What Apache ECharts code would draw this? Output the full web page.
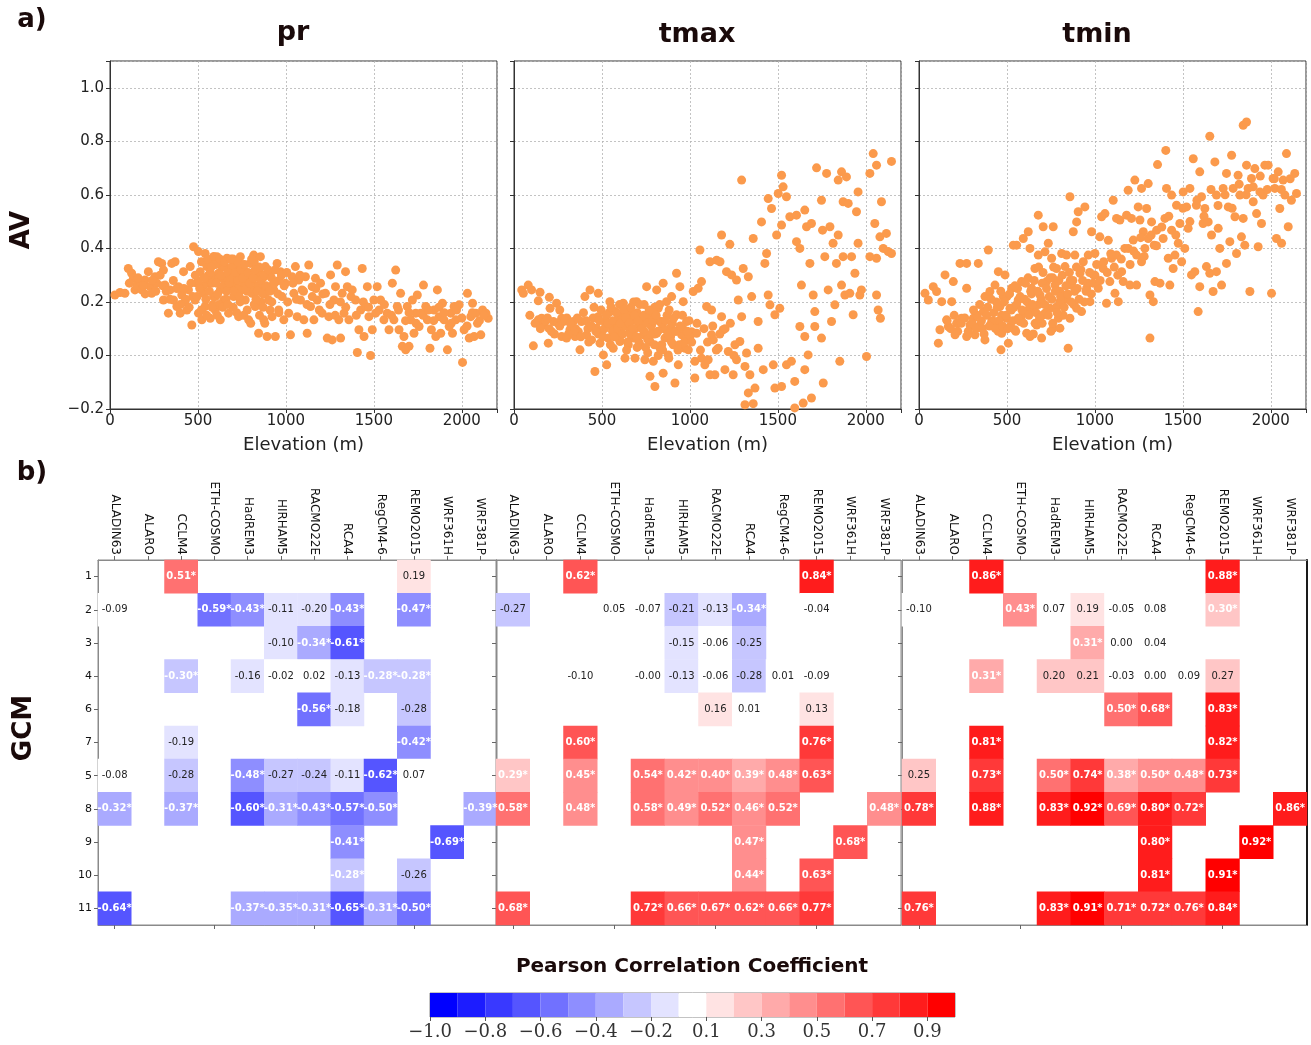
<!DOCTYPE html>
<html><head><meta charset="utf-8">
<script src="https://cdn.jsdelivr.net/npm/echarts@6/dist/echarts.min.js"></script>
<style>html,body{margin:0;padding:0;background:#fff}#c{width:1311px;height:1045px}</style>
</head><body><div id="c"></div>
<script>
// ---------------- DATA ----------------
const panelNames = ['pr', 'tmax', 'tmin'];
const rcms = ['ALADIN63','ALARO','CCLM4','ETH-COSMO','HadREM3','HIRHAM5','RACMO22E','RCA4','RegCM4-6','REMO2015','WRF361H','WRF381P'];
const gcms = ['1','2','3','4','6','7','5','8','9','10','11'];
const cbarTickLabels = ['\u22121.0','\u22120.8','\u22120.6','\u22120.4','\u22120.2','0.1','0.3','0.5','0.7','0.9'];

// elevation (m), AV
const prPoints = [[28,0.226],[57,0.235],[85,0.232],[104,0.325],[123,0.307],[133,0.288],[142,0.245],[152,0.263],[171,0.276],[180,0.245],[199,0.282],[218,0.313],[228,0.257],[237,0.232],[256,0.294],[266,0.27],[275,0.35],[294,0.344],[304,0.319],[304,0.207],[313,0.263],[332,0.158],[342,0.245],[351,0.344],[361,0.207],[370,0.35],[380,0.183],[389,0.257],[399,0.158],[408,0.226],[418,0.313],[427,0.201],[437,0.17],[446,0.245],[456,0.332],[465,0.114],[475,0.406],[484,0.207],[494,0.27],[503,0.388],[503,0.158],[513,0.313],[522,0.133],[532,0.232],[541,0.381],[541,0.183],[551,0.332],[560,0.27],[570,0.139],[579,0.356],[589,0.294],[589,0.22],[598,0.17],[608,0.369],[617,0.307],[627,0.245],[627,0.133],[636,0.332],[646,0.207],[655,0.282],[665,0.363],[674,0.158],[684,0.319],[693,0.257],[703,0.22],[712,0.344],[722,0.294],[731,0.145],[741,0.369],[750,0.245],[760,0.319],[769,0.207],[779,0.282],[788,0.133],[798,0.344],[807,0.232],[817,0.375],[826,0.183],[836,0.294],[845,0.083],[855,0.369],[864,0.257],[874,0.133],[883,0.332],[893,0.071],[902,0.207],[912,0.307],[921,0.145],[931,0.245],[940,0.071],[950,0.344],[959,0.17],[969,0.313],[978,0.22],[988,0.133],[997,0.27],[1016,0.158],[1026,0.077],[1035,0.294],[1045,0.232],[1054,0.332],[1064,0.145],[1073,0.282],[1083,0.207],[1092,0.245],[1102,0.133],[1111,0.294],[1121,0.083],[1130,0.338],[1140,0.183],[1149,0.257],[1159,0.133],[1168,0.288],[1178,0.207],[1197,0.27],[1206,0.158],[1225,0.232],[1235,0.065],[1244,0.145],[1254,0.301],[1263,0.058],[1273,0.207],[1282,0.257],[1292,0.338],[1301,0.133],[1311,0.065],[1320,0.232],[1330,0.158],[1339,0.313],[1349,0.257],[1358,0.133],[1377,0.245],[1396,0.207],[1406,0.011],[1415,0.096],[1425,0.17],[1434,0.325],[1444,0.071],[1453,0.183],[1463,0.257],[1472,0.145],[1481,0.0],[1491,0.096],[1500,0.207],[1510,0.158],[1519,0.257],[1538,0.207],[1557,0.133],[1576,0.158],[1586,0.096],[1605,0.27],[1614,0.133],[1624,0.319],[1633,0.183],[1643,0.096],[1652,0.232],[1662,0.034],[1671,0.071],[1681,0.021],[1690,0.183],[1700,0.034],[1709,0.133],[1719,0.207],[1728,0.083],[1738,0.158],[1747,0.226],[1757,0.108],[1766,0.158],[1782,0.263],[1795,0.183],[1804,0.133],[1819,0.027],[1827,0.096],[1842,0.17],[1852,0.071],[1861,0.245],[1871,0.145],[1880,0.083],[1890,0.195],[1899,0.133],[1918,0.021],[1928,0.108],[1937,0.158],[1947,0.083],[1956,0.183],[1966,0.133],[1985,0.189],[2004,-0.026],[2013,0.096],[2032,0.232],[2042,0.065],[2051,0.145],[2061,0.195],[2070,0.071],[2080,0.158],[2089,0.12],[2108,0.077],[2118,0.17],[2137,0.158],[2150,0.139],
[560,0.30],[580,0.27],[600,0.34],[620,0.29],[640,0.25],[650,0.33],[660,0.28],[680,0.30],[700,0.36],[710,0.27],[720,0.32],[730,0.25],[740,0.29],[750,0.34],[760,0.27],[770,0.31],[780,0.24],[790,0.30],[810,0.28],[820,0.35],[840,0.26],[850,0.31],[870,0.29],[880,0.23],[900,0.30],[920,0.26],[940,0.32],[960,0.28],[600,0.22],[620,0.19],[660,0.21],[700,0.18],[740,0.20],[780,0.17],[820,0.19],[860,0.20],[530,0.26],[570,0.31],[690,0.33],[725,0.35],[800,0.25],[830,0.21],[870,0.18],[910,0.17],[500,0.28],[470,0.22],[430,0.21],[380,0.25],[340,0.21],[300,0.26],[260,0.24],[200,0.23],
[485,0.30],[495,0.22],[510,0.25],[520,0.35],[535,0.29],[545,0.21],[555,0.36],[565,0.24],[575,0.33],[585,0.19],[590,0.37],[605,0.27],[612,0.23],[625,0.36],[632,0.30],[645,0.26],[652,0.35],[663,0.24],[670,0.31],[678,0.27],[688,0.36],[698,0.29],[705,0.24],[715,0.31],[728,0.28],[735,0.22],[745,0.32],[755,0.29],[765,0.34],[772,0.25],[785,0.31],[795,0.27],[805,0.36],[815,0.29],[825,0.32],[838,0.24],[848,0.33],[858,0.28],[868,0.23],[878,0.30],[888,0.26],[898,0.32],[908,0.24],[918,0.29],[935,0.27],[955,0.23],[975,0.30],[990,0.26],[1005,0.31],[1010,0.20],[1040,0.27],[1060,0.21],[1080,0.30],[1100,0.24],[1120,0.19],[1150,0.22],[1170,0.25],[1190,0.17],[1210,0.23],[1250,0.19],[1280,0.15],[1310,0.20],[1340,0.18],[1370,0.22],[1400,0.15],[1440,0.20],[1470,0.18],[1530,0.17],[1560,0.19],[1600,0.15],[1640,0.17],[1680,0.13],[1700,0.16],[1740,0.12],[1780,0.15],[1810,0.17],[1840,0.13],[1870,0.18],[1900,0.16],[1940,0.12],[1970,0.17],[2000,0.14],[2030,0.11],[2060,0.16],[2100,0.13],[2125,0.15],
[110,0.27],[160,0.29],[190,0.26],[240,0.28],[285,0.30],[320,0.24],[360,0.28],[400,0.19],[420,0.25],[450,0.18],[460,0.27],[520,0.17],[550,0.15],[580,0.18],[610,0.15],[640,0.18],[670,0.19],[720,0.16],[760,0.15],[800,0.12],[850,0.15],[880,0.12],[920,0.20],[960,0.16]];

const tmaxPoints = [[44,0.245],[53,0.232],[81,0.263],[100,0.245],[110,0.036],[138,0.204],[138,0.133],[148,0.236],[157,0.139],[167,0.114],[176,0.127],[195,0.046],[201,0.217],[205,0.176],[214,0.089],[224,0.127],[242,0.195],[271,0.139],[271,0.071],[280,0.127],[299,0.065],[318,0.096],[337,0.127],[347,0.071],[366,0.089],[375,0.021],[384,0.127],[403,0.22],[413,0.077],[432,0.245],[441,0.058],[460,-0.06],[470,0.102],[479,0.232],[479,0.145],[489,0.046],[498,0.089],[508,0.002],[517,0.127],[527,-0.035],[536,0.065],[545,0.201],[555,0.114],[564,0.027],[574,0.164],[583,0.077],[593,0.139],[602,0.052],[612,0.102],[621,0.195],[631,-0.01],[640,0.127],[650,0.04],[659,0.089],[669,0.152],[678,0.065],[688,-0.01],[697,0.201],[706,0.108],[716,0.04],[725,0.139],[735,0.077],[744,-0.016],[754,0.257],[763,0.152],[773,0.052],[773,-0.078],[782,0.114],[792,-0.022],[801,-0.116],[811,0.245],[811,0.083],[820,0.176],[830,0.027],[839,0.127],[848,0.27],[848,-0.066],[858,0.065],[867,0.201],[877,0.002],[886,0.102],[896,0.22],[905,0.04],[915,-0.103],[924,0.307],[924,0.152],[934,-0.035],[943,0.257],[953,0.077],[962,0.201],[972,0.027],[981,0.127],[991,0.021],[1009,0.089],[1019,0.239],[1028,-0.022],[1028,-0.084],[1038,0.083],[1047,0.251],[1057,0.394],[1066,0.276],[1066,-0.01],[1085,-0.035],[1095,0.183],[1104,-0.016],[1114,0.35],[1114,-0.072],[1123,0.077],[1123,0.17],[1133,0.058],[1142,-0.072],[1152,0.356],[1161,0.027],[1171,0.35],[1180,0.145],[1180,0.45],[1189,0.096],[1199,-0.053],[1208,0.313],[1218,0.015],[1227,0.415],[1237,0.301],[1246,-0.072],[1256,0.04],[1265,0.282],[1265,-0.016],[1275,0.207],[1284,0.052],[1294,0.655],[1294,0.145],[1303,0.325],[1313,-0.041],[1313,-0.184],[1322,0.009],[1332,0.294],[1332,-0.14],[1341,-0.072],[1351,0.22],[1360,0.437],[1360,-0.18],[1370,-0.122],[1388,0.027],[1388,0.127],[1407,0.499],[1417,-0.053],[1426,0.344],[1436,0.381],[1445,0.586],[1445,0.226],[1455,0.189],[1464,0.549],[1474,-0.035],[1483,0.152],[1483,-0.122],[1493,0.45],[1502,0.605],[1511,0.176],[1521,0.673],[1521,0.487],[1530,0.63],[1521,-0.116],[1549,0.593],[1549,-0.035],[1568,0.518],[1577,-0.022],[1596,-0.097],[1596,-0.196],[1606,0.524],[1606,0.425],[1625,0.4],[1625,0.108],[1634,0.263],[1644,-0.178],[1653,0.543],[1653,0.071],[1653,-0.053],[1663,0.481],[1672,0.002],[1682,0.344],[1691,0.493],[1691,-0.159],[1701,0.226],[1710,0.164],[1710,0.108],[1720,0.701],[1748,0.58],[1748,0.065],[1754,0.468],[1758,-0.103],[1767,0.369],[1777,0.68],[1786,0.245],[1796,0.481],[1805,0.127],[1814,0.419],[1824,0.189],[1833,0.344],[1843,0.655],[1843,0.45],[1852,-0.022],[1862,0.263],[1862,0.686],[1871,0.574],[1871,0.369],[1881,0.226],[1890,0.667],[1890,-0.202],[1900,0.568],[1909,0.232],[1919,0.369],[1928,0.152],[1938,0.307],[1947,0.537],[1956,0.611],[1956,0.419],[1966,0.226],[1975,0.245],[2004,-0.004],[2023,0.68],[2023,0.369],[2042,0.754],[2051,0.493],[2061,0.711],[2061,0.226],[2061,0.363],[2070,0.17],[2080,0.443],[2083,0.139],[2089,0.574],[2099,0.4],[2117,0.456],[2127,0.388],[2146,0.725],[2146,0.381],
[420,0.10],[450,0.14],[480,0.08],[520,0.12],[540,0.16],[560,0.09],[580,0.13],[600,0.06],[610,0.15],[630,0.11],[650,0.17],[660,0.08],[670,0.13],[690,0.10],[700,0.16],[710,0.05],[720,0.12],[740,0.09],[750,0.14],[760,0.06],[780,0.11],[790,0.17],[800,0.08],[820,0.13],[840,0.04],[850,0.10],[870,0.15],[890,0.07],[900,0.12],[920,0.09],[940,0.04],[960,0.10],[980,0.06],[1000,0.07],[640,0.02],[700,0.03],[760,0.01],[820,0.00],[880,-0.01],[600,0.19],[680,0.20],[740,0.19],[800,0.18],[350,0.10],[300,0.14],[250,0.12],[200,0.10],[180,0.13],
[360,0.14],[380,0.07],[395,0.16],[410,0.13],[425,0.05],[440,0.11],[455,0.18],[465,0.09],[485,0.13],[495,0.17],[505,0.07],[515,0.10],[525,0.15],[535,0.12],[548,0.04],[552,0.18],[562,0.13],[570,0.07],[585,0.16],[590,0.10],[605,0.12],[618,0.08],[625,0.17],[635,0.14],[645,0.05],[655,0.12],[665,0.18],[675,0.10],[685,0.15],[695,0.07],[705,0.13],[715,0.19],[728,0.10],[738,0.15],[748,0.03],[758,0.12],[768,0.17],[778,0.08],[788,0.13],[798,0.04],[808,0.15],[818,0.09],[828,0.19],[838,0.12],[845,0.02],[862,0.13],[875,0.08],[882,0.17],[895,0.05],[908,0.14],[918,0.09],[932,0.02],[945,0.11],[958,0.15],[968,0.05],[985,0.09],[995,0.13],[1010,0.05],[1040,0.12],[1060,0.02],[1080,0.10],[1100,0.05],[1130,0.11],[1150,0.02],[1170,0.08],[1200,0.10],[1230,0.12],[1250,0.00],
[90,0.15],[120,0.12],[150,0.10],[190,0.14],[230,0.08],[260,0.11],[290,0.13],[320,0.12],[340,0.09],[310,0.08],[260,0.17]];

const tminPoints = [[34,0.232],[53,0.207],[81,0.257],[100,0.239],[110,0.046],[119,0.096],[129,0.201],[148,0.301],[157,0.133],[167,0.108],[186,0.201],[195,0.276],[205,0.077],[214,0.12],[233,0.344],[242,0.139],[271,0.344],[271,0.071],[271,0.251],[290,0.114],[309,0.139],[318,0.077],[337,0.344],[347,0.114],[366,0.164],[375,0.22],[375,0.058],[394,0.394],[403,0.239],[413,0.127],[432,0.263],[441,0.108],[451,0.313],[460,0.183],[466,0.021],[470,0.083],[479,0.22],[489,0.301],[498,0.139],[508,0.046],[517,0.176],[527,0.251],[536,0.412],[545,0.096],[555,0.412],[564,0.207],[574,0.127],[583,0.276],[593,0.437],[602,0.164],[612,0.083],[621,0.462],[631,0.4],[631,0.071],[640,0.251],[650,0.176],[659,0.325],[669,0.114],[678,0.524],[678,0.375],[688,0.226],[697,0.065],[706,0.481],[706,0.152],[716,0.387],[725,0.276],[735,0.419],[744,0.176],[754,0.363],[763,0.481],[763,0.102],[773,0.263],[782,0.325],[792,0.139],[801,0.102],[811,0.381],[820,0.226],[830,0.332],[839,0.375],[848,0.027],[858,0.593],[858,0.139],[867,0.263],[877,0.462],[886,0.375],[896,0.499],[896,0.176],[905,0.537],[915,0.307],[924,0.164],[934,0.35],[943,0.555],[953,0.251],[962,0.375],[972,0.201],[981,0.462],[991,0.301],[1000,0.381],[1019,0.251],[1028,0.443],[1038,0.518],[1047,0.325],[1057,0.53],[1066,0.195],[1076,0.43],[1085,0.276],[1095,0.363],[1104,0.58],[1114,0.232],[1123,0.512],[1123,0.375],[1133,0.201],[1142,0.506],[1152,0.313],[1161,0.276],[1180,0.524],[1189,0.617],[1189,0.4],[1199,0.263],[1208,0.512],[1218,0.431],[1227,0.655],[1237,0.375],[1237,0.263],[1246,0.555],[1256,0.506],[1265,0.624],[1265,0.35],[1275,0.462],[1284,0.4],[1294,0.549],[1303,0.642],[1303,0.437],[1313,0.226],[1313,0.065],[1322,0.499],[1332,0.201],[1337,0.412],[1341,0.276],[1351,0.468],[1356,0.713],[1370,0.27],[1388,0.437],[1398,0.512],[1403,0.766],[1407,0.624],[1417,0.363],[1426,0.263],[1436,0.599],[1436,0.468],[1445,0.325],[1455,0.375],[1464,0.561],[1474,0.419],[1483,0.493],[1493,0.35],[1502,0.611],[1511,0.4],[1521,0.555],[1530,0.475],[1540,0.624],[1549,0.301],[1559,0.735],[1568,0.313],[1577,0.561],[1587,0.164],[1596,0.257],[1596,0.686],[1606,0.593],[1615,0.493],[1625,0.549],[1634,0.332],[1644,0.499],[1653,0.819],[1653,0.307],[1663,0.45],[1672,0.239],[1682,0.723],[1691,0.599],[1691,0.313],[1701,0.475],[1710,0.4],[1720,0.263],[1729,0.624],[1748,0.344],[1748,0.68],[1758,0.555],[1767,0.425],[1777,0.748],[1786,0.624],[1796,0.518],[1805,0.381],[1814,0.673],[1824,0.599],[1833,0.443],[1843,0.86],[1843,0.512],[1852,0.412],[1862,0.711],[1862,0.872],[1871,0.624],[1881,0.239],[1890,0.661],[1900,0.574],[1909,0.698],[1919,0.53],[1928,0.406],[1938,0.611],[1947,0.493],[1956,0.599],[1966,0.711],[1985,0.711],[2004,0.232],[2013,0.661],[2023,0.624],[2032,0.437],[2042,0.686],[2051,0.549],[2061,0.419],[2070,0.655],[2080,0.599],[2089,0.754],[2099,0.481],[2117,0.58],[2136,0.68],[2146,0.605],
[300,0.12],[330,0.15],[360,0.10],[390,0.18],[420,0.13],[440,0.20],[470,0.15],[500,0.22],[520,0.11],[540,0.18],[560,0.25],[580,0.14],[600,0.21],[620,0.17],[640,0.23],[660,0.12],[680,0.19],[700,0.27],[720,0.16],[740,0.22],[760,0.29],[780,0.18],[800,0.24],[820,0.15],[840,0.21],[860,0.28],[880,0.19],[900,0.25],[920,0.32],[940,0.20],[960,0.27],[980,0.23],[1000,0.30],[700,0.12],[750,0.09],[800,0.20],[650,0.08],[550,0.09],[450,0.09],[620,0.29],[680,0.33],[760,0.12],
[160,0.13],[180,0.10],[200,0.15],[220,0.09],[240,0.12],[260,0.14],[280,0.09],[310,0.17],[325,0.10],[345,0.19],[355,0.13],[370,0.08],[385,0.15],[400,0.11],[410,0.21],[425,0.16],[435,0.10],[445,0.18],[455,0.13],[465,0.24],[475,0.11],[485,0.20],[495,0.15],[505,0.10],[515,0.23],[525,0.17],[535,0.13],[545,0.26],[555,0.19],[565,0.14],[575,0.22],[585,0.17],[595,0.12],[605,0.27],[615,0.20],[625,0.15],[635,0.24],[645,0.19],[655,0.28],[665,0.16],[675,0.24],[685,0.14],[695,0.21],[705,0.31],[715,0.19],[725,0.25],[735,0.15],[745,0.29],[755,0.21],[765,0.33],[775,0.24],[785,0.16],[795,0.28],[805,0.22],[815,0.30],[825,0.18],[835,0.26],[845,0.23],[855,0.31],[865,0.20],[875,0.28],[885,0.24],[895,0.33],[910,0.21],[930,0.28],[950,0.24],[970,0.31],[990,0.27],[1010,0.34],[1030,0.28],[1050,0.35],[1070,0.31],[1090,0.38],[1110,0.33],[1130,0.30],[1150,0.36],[1170,0.40],[1200,0.34],[1220,0.39],[1260,0.44],[1280,0.37],[1320,0.45],[1350,0.41],[1380,0.48],[1420,0.52],[1460,0.45],[1500,0.55],[1540,0.50],[1580,0.58],[1620,0.52],[1660,0.62],[1700,0.56],[1740,0.60],[1780,0.55],[1820,0.64],[1860,0.60],[1900,0.63],[1940,0.67],[1980,0.62],[2020,0.66],[2060,0.62],[2110,0.66]];

// correlation cells: rows follow gcms, columns follow rcms; '*' = significant
const prCells = [
 [null,null,'0.51*',null,null,null,null,null,null,'0.19',null,null],
 ['-0.09',null,null,'-0.59*','-0.43*','-0.11','-0.199','-0.43*',null,'-0.47*',null,null],
 [null,null,null,null,null,'-0.101','-0.34*','-0.61*',null,null,null,null],
 [null,null,'-0.299*',null,'-0.16','-0.02','0.02','-0.13','-0.28*','-0.28*',null,null],
 [null,null,null,null,null,null,'-0.56*','-0.18',null,'-0.28',null,null],
 [null,null,'-0.19',null,null,null,null,null,null,'-0.42*',null,null],
 ['-0.08',null,'-0.28',null,'-0.48*','-0.27','-0.24','-0.11','-0.62*','0.07',null,null],
 ['-0.32*',null,'-0.37*',null,'-0.601*','-0.31*','-0.43*','-0.57*','-0.499*',null,null,'-0.39*'],
 [null,null,null,null,null,null,null,'-0.41*',null,null,'-0.69*',null],
 [null,null,null,null,null,null,null,'-0.28*',null,'-0.26',null,null],
 ['-0.64*',null,null,null,'-0.37*','-0.35*','-0.31*','-0.65*','-0.31*','-0.501*',null,null]
];
const tmaxCells = [
 [null,null,'0.62*',null,null,null,null,null,null,'0.84*',null,null],
 ['-0.27',null,null,'0.05','-0.07','-0.21','-0.13','-0.34*',null,'-0.04',null,null],
 [null,null,null,null,null,'-0.15','-0.06','-0.25',null,null,null,null],
 [null,null,'-0.099',null,'-0.001','-0.13','-0.06','-0.28','0.01','-0.09',null,null],
 [null,null,null,null,null,null,'0.16','0.01',null,'0.13',null,null],
 [null,null,'0.601*',null,null,null,null,null,null,'0.76*',null,null],
 ['0.29*',null,'0.45*',null,'0.54*','0.42*','0.40*','0.39*','0.48*','0.63*',null,null],
 ['0.58*',null,'0.48*',null,'0.58*','0.49*','0.52*','0.46*','0.52*',null,null,'0.48*'],
 [null,null,null,null,null,null,null,'0.47*',null,null,'0.68*',null],
 [null,null,null,null,null,null,null,'0.44*',null,'0.63*',null,null],
 ['0.68*',null,null,null,'0.72*','0.66*','0.67*','0.62*','0.66*','0.77*',null,null]
];
const tminCells = [
 [null,null,'0.86*',null,null,null,null,null,null,'0.88*',null,null],
 ['-0.096',null,null,'0.43*','0.07','0.19','-0.05','0.08',null,'0.299*',null,null],
 [null,null,null,null,null,'0.31*','0.00','0.04',null,null,null,null],
 [null,null,'0.31*',null,'0.20','0.21','-0.03','0.00','0.09','0.27',null,null],
 [null,null,null,null,null,null,'0.501*','0.68*',null,'0.83*',null,null],
 [null,null,'0.81*',null,null,null,null,null,null,'0.82*',null,null],
 ['0.25',null,'0.73*',null,'0.501*','0.74*','0.38*','0.499*','0.48*','0.73*',null,null],
 ['0.78*',null,'0.88*',null,'0.83*','0.92*','0.69*','0.80*','0.72*',null,null,'0.86*'],
 [null,null,null,null,null,null,null,'0.80*',null,null,'0.92*',null],
 [null,null,null,null,null,null,null,'0.81*',null,'0.91*',null,null],
 ['0.76*',null,null,null,'0.83*','0.91*','0.71*','0.72*','0.76*','0.84*',null,null]
];

// ---------------- STYLE / BUILD ----------------
const FONT = 'DejaVu Sans';
const INK = '#1a0a0a';
function levelColor(L) { // L in -9..9
  if (L === 0) return '#ffffff';
  const c = Math.round(255 * (9 - Math.abs(L)) / 9);
  const h = c.toString(16).padStart(2, '0');
  return L < 0 ? '#' + h + h + 'ff' : '#ff' + h + h;
}
function binColor(v) {
  if (v > -0.1 && v < 0.1) return '#ffffff';
  const L = Math.min(9, Math.floor(Math.abs(v) * 10 + 1e-9));
  return levelColor(v < 0 ? -L : L);
}
function cellsToData(cells) {
  const out = [];
  cells.forEach((row, ri) => row.forEach((s, ci) => {
    if (s === null) return;
    const v = parseFloat(s), sig = s.indexOf('*') >= 0;
    out.push({
      value: [ci, ri, v], txt: v.toFixed(2) + (sig ? '*' : ''),
      itemStyle: { color: binColor(v) },
      label: { color: sig ? '#ffffff' : '#222222', fontWeight: sig ? 'bold' : 'normal' }
    });
  }));
  return out;
}
const cbarLevels = [];
for (let L = -9; L <= 9; L++) cbarLevels.push(L);

const scatterLeft = [110, 514, 919];
const heatLeft = [98, 496, 902];
const heatWidth = [399, 405, 405];
const pointSets = [prPoints, tmaxPoints, tminPoints];
const cellSets = [prCells, tmaxCells, tminCells];

const grid = [], xAxis = [], yAxis = [], series = [];
const fmtNum = v => (Math.abs(v) < 1e-9 ? 0 : v).toFixed(1).replace('-', '\u2212');

for (let i = 0; i < 3; i++) {
  grid.push({ left: scatterLeft[i], top: 61, width: 387, height: 348, show: true, borderColor: '#333', borderWidth: 1, backgroundColor: 'transparent' });
}
for (let i = 0; i < 3; i++) {
  grid.push({ left: heatLeft[i], top: 560, width: heatWidth[i], height: 365, show: true, borderColor: '#8a8a8a', borderWidth: 1 });
}
grid.push({ left: 430, top: 993, width: 525, height: 24, show: true, borderColor: '#888', borderWidth: 1 });

// scatter axes
for (let i = 0; i < 3; i++) {
  xAxis.push({
    gridIndex: i, type: 'value', min: 0, max: 2200, interval: 500,
    name: 'Elevation (m)', nameLocation: 'middle', nameGap: 27,
    nameTextStyle: { fontFamily: FONT, fontSize: 18, color: '#222' },
    axisLine: { show: true, onZero: false, lineStyle: { color: '#333' } },
    axisTick: { show: true, inside: false, length: 4, lineStyle: { color: '#333' } },
    axisLabel: { fontFamily: FONT, fontSize: 15, color: '#222', margin: 5, formatter: v => (v % 500 === 0 ? String(v) : '') },
    splitLine: { show: true, lineStyle: { color: '#b4b4b4', type: [2, 2], width: 0.8 } }
  });
  yAxis.push({
    gridIndex: i, type: 'value', min: -0.2, max: 1.1, interval: 0.2,
    axisLine: { show: true, onZero: false, lineStyle: { color: '#333' } },
    axisTick: { show: true, length: 4, lineStyle: { color: '#333' } },
    axisLabel: { show: i === 0, fontFamily: FONT, fontSize: 15, color: '#222', margin: 6,
      formatter: v => (Math.abs(v - 1.1) < 1e-6 ? '' : fmtNum(v)) },
    splitLine: { show: true, lineStyle: { color: '#b4b4b4', type: [2, 2], width: 0.8 } }
  });
  series.push({
    type: 'scatter', xAxisIndex: i, yAxisIndex: i, data: pointSets[i],
    symbolSize: 9, itemStyle: { color: '#fb9a4c', opacity: 1 }, clip: true, silent: true
  });
}
// heatmap axes: top labelled (3..5)
for (let i = 0; i < 3; i++) {
  xAxis.push({
    gridIndex: 3 + i, type: 'category', data: rcms, position: 'top',
    axisLine: { show: true, lineStyle: { color: '#8a8a8a' } },
    axisTick: { show: true, alignWithLabel: true, length: 4, lineStyle: { color: '#666' } },
    axisLabel: { rotate: 90, fontFamily: FONT, fontSize: 12, color: '#111', margin: 5, interval: 0 },
    splitLine: { show: false }
  });
}
// heatmap bottom tick axes (6..8)
for (let i = 0; i < 3; i++) {
  xAxis.push({
    gridIndex: 3 + i, type: 'category', data: rcms, position: 'bottom',
    axisLine: { show: true, lineStyle: { color: '#8a8a8a' } },
    axisTick: { show: true, alignWithLabel: true, length: 4, lineStyle: { color: '#666' } },
    axisLabel: { show: false }, splitLine: { show: false }
  });
}
// colorbar x axis (9)
xAxis.push({
  gridIndex: 6, type: 'value', min: 0, max: 19,
  axisLine: { show: false },
  axisTick: { show: true, length: 4, lineStyle: { color: '#555' }, customValues: [0, 2, 4, 6, 8, 10, 12, 14, 16, 18] },
  axisLabel: { fontFamily: 'DejaVu Serif', fontSize: 18, color: '#333', margin: 6,
    customValues: [0, 2, 4, 6, 8, 10, 12, 14, 16, 18], formatter: v => cbarTickLabels[Math.round(v / 2)] || '' },
  splitLine: { show: false }
});
for (let i = 0; i < 3; i++) {
  yAxis.push({
    gridIndex: 3 + i, type: 'category', data: gcms, inverse: true,
    axisLine: { show: true, lineStyle: { color: '#8a8a8a' } },
    axisTick: { show: true, alignWithLabel: true, length: 4, lineStyle: { color: '#666' } },
    axisLabel: { show: i === 0, fontFamily: FONT, fontSize: 11, color: '#111', margin: 6, interval: 0 },
    splitLine: { show: false }
  });
  series.push({
    type: 'heatmap', xAxisIndex: 3 + i, yAxisIndex: 3 + i, data: cellsToData(cellSets[i]),
    itemStyle: { borderWidth: 0 },
    label: { show: true, fontFamily: FONT, fontSize: 10, formatter: p => p.data.txt },
    emphasis: { disabled: true }, silent: true
  });
}
// right edge dark line of last heatmap (6)
yAxis.push({
  gridIndex: 5, type: 'category', data: gcms, inverse: true, position: 'right',
  axisLine: { show: true, lineStyle: { color: '#1a1a1a', width: 2 } },
  axisTick: { show: false }, axisLabel: { show: false }, splitLine: { show: false }
});
// colorbar y axis (7)
yAxis.push({ gridIndex: 6, type: 'value', min: 0, max: 1, show: false });
series.push({
  type: 'custom', xAxisIndex: 9, yAxisIndex: 7,
  data: cbarLevels.map((L, i) => [i, 0]),
  renderItem: (params, api) => {
    const i = api.value(0);
    const p0 = api.coord([i, 1]), p1 = api.coord([i + 1, 0]);
    return { type: 'rect', shape: { x: p0[0], y: p0[1], width: p1[0] - p0[0], height: p1[1] - p0[1] },
      style: { fill: levelColor(cbarLevels[i]) } };
  }, silent: true
});

const titleText = (text, x, y, size, rot) => ({
  type: 'text', x: x, y: y, rotation: rot || 0,
  style: { text: text, fill: INK, font: 'bold ' + size + 'px "' + FONT + '"', align: 'center', verticalAlign: 'middle' }
});

const option = {
  animation: false,
  backgroundColor: '#ffffff',
  grid: grid, xAxis: xAxis, yAxis: yAxis, series: series,
  graphic: [
    titleText('a)', 32, 20, 26),
    titleText('b)', 32, 473, 26),
    titleText(panelNames[0], 293, 33, 27),
    titleText(panelNames[1], 697, 35, 27),
    titleText(panelNames[2], 1097, 35, 27),
    titleText('AV', 22, 230, 26, Math.PI / 2),
    titleText('GCM', 24, 728, 26, Math.PI / 2),
    titleText('Pearson Correlation Coefficient', 692, 967, 20)
  ]
};
const chart = echarts.init(document.getElementById('c'), null, { renderer: 'canvas' });
chart.setOption(option);
</script>
</body></html>
